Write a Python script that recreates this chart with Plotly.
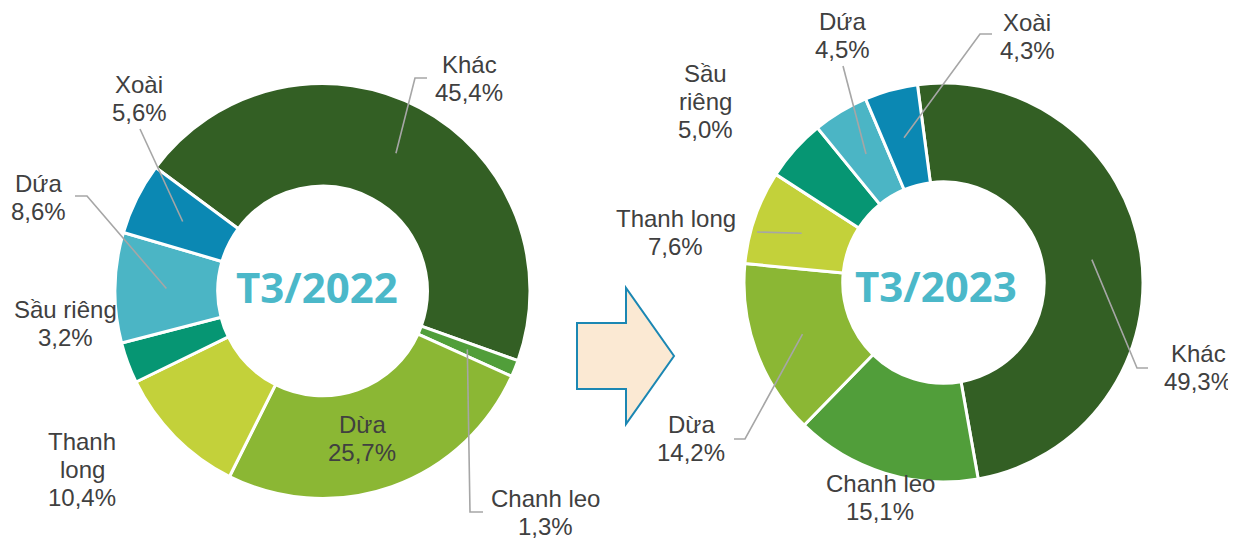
import math
import plotly.graph_objects as go

W, H = 1236, 541
OFF = 8  # page body margin in the browser
FW, FH = W - OFF, H - OFF

# ---------------- data ----------------
categories = ["Khác", "Chanh leo", "Dừa", "Thanh long", "Sầu riêng", "Dứa", "Xoài"]
values_2022 = [45.4, 1.3, 25.7, 10.4, 3.2, 8.6, 5.6]
values_2023 = [49.3, 15.1, 14.2, 7.6, 5.0, 4.5, 4.3]
period_labels = ["T3/2022", "T3/2023"]

# ---------------- styles ----------------
colors = ["#335F24", "#519E3A", "#8BB734", "#C3D13A", "#069673", "#4BB5C5", "#0B88B3"]
LABEL_FONT = "Liberation Sans, Arial, sans-serif"
LABEL_SIZE = 24
LABEL_COLOR = "#404040"
LINE_GAP = 28
LEADER_COLOR = "#A6A6A6"
TITLE_COLOR = "#4BB8C9"
HOLE = 0.505


def px(x):
    return (x - OFF) / FW


def py(y):
    return 1 - (y - OFF) / FH


# layout of each doughnut (pixel geometry) and its label placement
pies = [
    dict(
        values=values_2022, title=period_labels[0],
        cx=322.5, cy=291, r=207.5, rotation=-53.5, title_xy=(317, 286.5),
        wrap={"Thanh long": ["Thanh", "long"]},
        labels={
            "Khác": dict(x=469, base=73, attach=(427, 78), elbow=(415, 78)),
            "Chanh leo": dict(x=545, base=507, attach=(483, 512), elbow=(470, 512)),
            "Dừa": dict(x=362, base=433),
            "Thanh long": dict(x=82, base=450),
            "Sầu riêng": dict(x=65, base=318),
            "Dứa": dict(x=38, base=192, attach=(75, 196), elbow=(87, 196)),
            "Xoài": dict(x=139, base=93, attach=(140, 129)),
        },
    ),
    dict(
        values=values_2023, title=period_labels[1],
        cx=943.5, cy=282.5, r=199.5, rotation=-7.5, title_xy=(936.5, 285.5),
        wrap={"Sầu riêng": ["Sầu", "riêng"]},
        labels={
            "Khác": dict(x=1198, base=362, attach=(1148, 368), elbow=(1137, 368)),
            "Chanh leo": dict(x=880, base=492),
            "Dừa": dict(x=691, base=433, attach=(734, 439), elbow=(745, 439)),
            "Thanh long": dict(x=675.5, base=227, attach=(757, 232)),
            "Sầu riêng": dict(x=705, base=82),
            "Dứa": dict(x=842, base=30, attach=(843, 66)),
            "Xoài": dict(x=1027, base=31, attach=(992, 34), elbow=(980, 34)),
        },
    ),
]

fig = go.Figure()
annotations = []
shapes = []

for p in pies:
    cx, cy, r = p["cx"], p["cy"], p["r"]
    fig.add_trace(go.Pie(
        labels=categories, values=p["values"], hole=HOLE, sort=False,
        direction="clockwise", rotation=p["rotation"],
        marker=dict(colors=colors, line=dict(color="white", width=3)),
        textinfo="none", hoverinfo="label+percent", showlegend=False,
        domain=dict(x=[px(cx - r), px(cx + r)], y=[py(cy + r), py(cy - r)]),
    ))

    # center title
    tx, ty = p["title_xy"]
    annotations.append(dict(
        x=px(tx), y=py(ty), xref="paper", yref="paper", showarrow=False,
        text="<b>" + p["title"] + "</b>", xanchor="center", yanchor="middle",
        font=dict(family="Open Sans, sans-serif", size=42, color=TITLE_COLOR),
    ))

    # slice mid angles from data
    total = sum(p["values"])
    start = p["rotation"]
    mid_r = r * (1 + HOLE) / 2
    for cat, v in zip(categories, p["values"]):
        ang = v / total * 360
        mid = math.radians(start + ang / 2)
        start += ang
        spec = p["labels"][cat]
        name_lines = p["wrap"].get(cat, [cat])
        lines = name_lines + [f"{v:.1f}".replace(".", ",") + "%"]
        for i, line in enumerate(lines):
            base = spec["base"] + i * LINE_GAP
            annotations.append(dict(
                x=px(spec["x"]), y=py(base - 0.3465 * LABEL_SIZE),
                xref="paper", yref="paper", showarrow=False, text=line,
                xanchor="center", yanchor="middle",
                font=dict(family=LABEL_FONT, size=LABEL_SIZE, color=LABEL_COLOR),
            ))
        if "attach" in spec:
            sx = cx + mid_r * math.sin(mid)
            sy = cy - mid_r * math.cos(mid)
            pts = [spec["attach"]]
            if "elbow" in spec:
                pts.append(spec["elbow"])
            pts.append((sx, sy))
            path = "M " + " L ".join(f"{px(a):.5f},{py(b):.5f}" for a, b in pts)
            shapes.append(dict(type="path", xref="paper", yref="paper", path=path,
                               line=dict(color=LEADER_COLOR, width=1.6)))

# block arrow between the two doughnuts
arrow_pts = [(577, 323), (626, 323), (626, 288), (674, 356), (626, 424), (626, 389), (577, 389)]
arrow_path = "M " + " L ".join(f"{px(a):.5f},{py(b):.5f}" for a, b in arrow_pts) + " Z"
shapes.append(dict(type="path", xref="paper", yref="paper", path=arrow_path,
                   fillcolor="#FBE9D3", line=dict(color="#1B87B3", width=2)))

fig.update_layout(
    width=FW, height=FH, margin=dict(l=0, r=0, t=0, b=0),
    paper_bgcolor="white", plot_bgcolor="white",
    annotations=annotations, shapes=shapes,
)

fig.write_html("out.html")
